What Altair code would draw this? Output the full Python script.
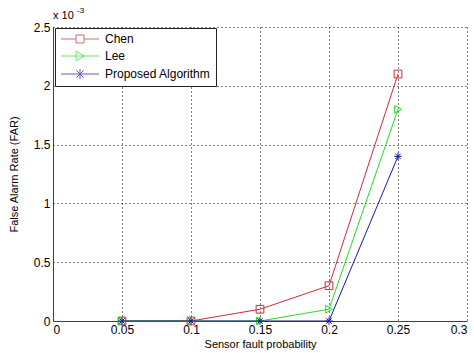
import altair as alt
import pandas as pd

x_vals = [0.05, 0.10, 0.15, 0.20, 0.25]
series_names = ["Chen", "Lee", "Proposed Algorithm"]
chen = [0.0, 0.0, 0.1, 0.3, 2.1]
lee = [0.0, 0.0, 0.0, 0.1, 1.8]
proposed = [0.0, 0.0, 0.0, 0.0, 1.4]
x_ticks = [0, 0.05, 0.1, 0.15, 0.2, 0.25, 0.3]
y_ticks = [0, 0.5, 1, 1.5, 2, 2.5]
colors = ["#cc2a36", "#22dd22", "#1a1a9c"]

rows = []
for i, (name, vals) in enumerate(zip(series_names, [chen, lee, proposed])):
    for xv, yv in zip(x_vals, vals):
        rows.append({"p": xv, "far": yv, "series": name, "entry": name, "idx": i})
df = pd.DataFrame(rows)

asterisk = "M-1,0H1M0,-1V1M-0.7,-0.7L0.7,0.7M-0.7,0.7L0.7,-0.7"
shapes = ["square", "triangle-right", asterisk]

leg_sq = "M-3.8,0H-0.8M0.8,0H3.8M-0.8,-0.8H0.8V0.8H-0.8Z"
leg_tri = "M-3.8,0H3.8M-0.8,-0.95L0.9,0L-0.8,0.95Z"
leg_ast = "M-3.8,0H3.8M0,-1V1M-0.72,-0.72L0.72,0.72M-0.72,0.72L0.72,-0.72"
leg_shapes = [leg_sq, leg_tri, leg_ast]

xenc = alt.X("p:Q", scale=alt.Scale(domain=[0, 0.3], nice=False),
             axis=alt.Axis(values=x_ticks, format="~g", title="Sensor fault probability"))
yenc = alt.Y("far:Q", scale=alt.Scale(domain=[0, 2.5], nice=False),
             axis=alt.Axis(values=y_ticks, format="~g", title="False Alarm Rate (FAR)"))
cscale = alt.Scale(domain=series_names, range=colors)

lines = alt.Chart(df).mark_line(strokeWidth=1, clip=False).encode(
    x=xenc, y=yenc,
    color=alt.Color("series:N", scale=cscale, legend=None),
    detail="series:N",
)

points = alt.Chart(df).mark_point(filled=False, strokeWidth=1, size=60, opacity=1).encode(
    x="p:Q", y="far:Q",
    color=alt.Color("series:N", scale=cscale, legend=None),
    shape=alt.Shape("series:N", scale=alt.Scale(domain=series_names, range=shapes), legend=None),
    order=alt.Order("idx:Q"),
)

legend_layer = alt.Chart(df).transform_filter("false").mark_point(
    filled=False, strokeWidth=1
).encode(
    x="p:Q", y="far:Q",
    color=alt.Color("entry:N", scale=alt.Scale(domain=series_names, range=colors),
                    legend=alt.Legend(
                        orient="none", legendX=2, legendY=1, title=None,
                        strokeColor="#222222", fillColor="white", padding=5,
                        labelFont="Liberation Sans", labelFontSize=12, labelColor="black",
                        symbolSize=100, symbolOffset=14, symbolStrokeWidth=1,
                        labelOffset=19, rowPadding=4,
                        symbolFillColor="transparent",
                    )),
    shape=alt.Shape("entry:N", scale=alt.Scale(domain=series_names, range=leg_shapes)),
)

mult = alt.Chart(pd.DataFrame({"t": ["x 10"]})).mark_text(
    align="left", baseline="alphabetic", font="Liberation Sans", fontSize=11, color="black"
).encode(x=alt.value(0), y=alt.value(-8), text="t:N")
exp = alt.Chart(pd.DataFrame({"t": ["-3"]})).mark_text(
    align="left", baseline="alphabetic", font="Liberation Sans", fontSize=8, color="black"
).encode(x=alt.value(24), y=alt.value(-14), text="t:N")

chart = alt.layer(lines, points, legend_layer, mult, exp).resolve_scale(
    color="independent", shape="independent"
).properties(
    width=414, height=294,
    autosize=alt.AutoSizeParams(type="none"),
    padding={"left": 53, "top": 27, "right": 7, "bottom": 32},
    background="white",
).configure_view(stroke=None).configure_axis(
    labelFont="Liberation Sans", labelFontSize=12, labelColor="black",
    titleFont="Liberation Sans", titleFontSize=11, titleColor="black", titleFontWeight="normal",
    domainColor="#404040", domainWidth=1,
    grid=True, gridColor="#000000", gridDash=[1, 3], gridOpacity=1, gridWidth=1,
    ticks=False, labelPadding=3,
).configure_axisY(titlePadding=14).configure_axisX(titlePadding=3)

chart.save("out.html", embed_options={"renderer": "svg", "actions": False})
